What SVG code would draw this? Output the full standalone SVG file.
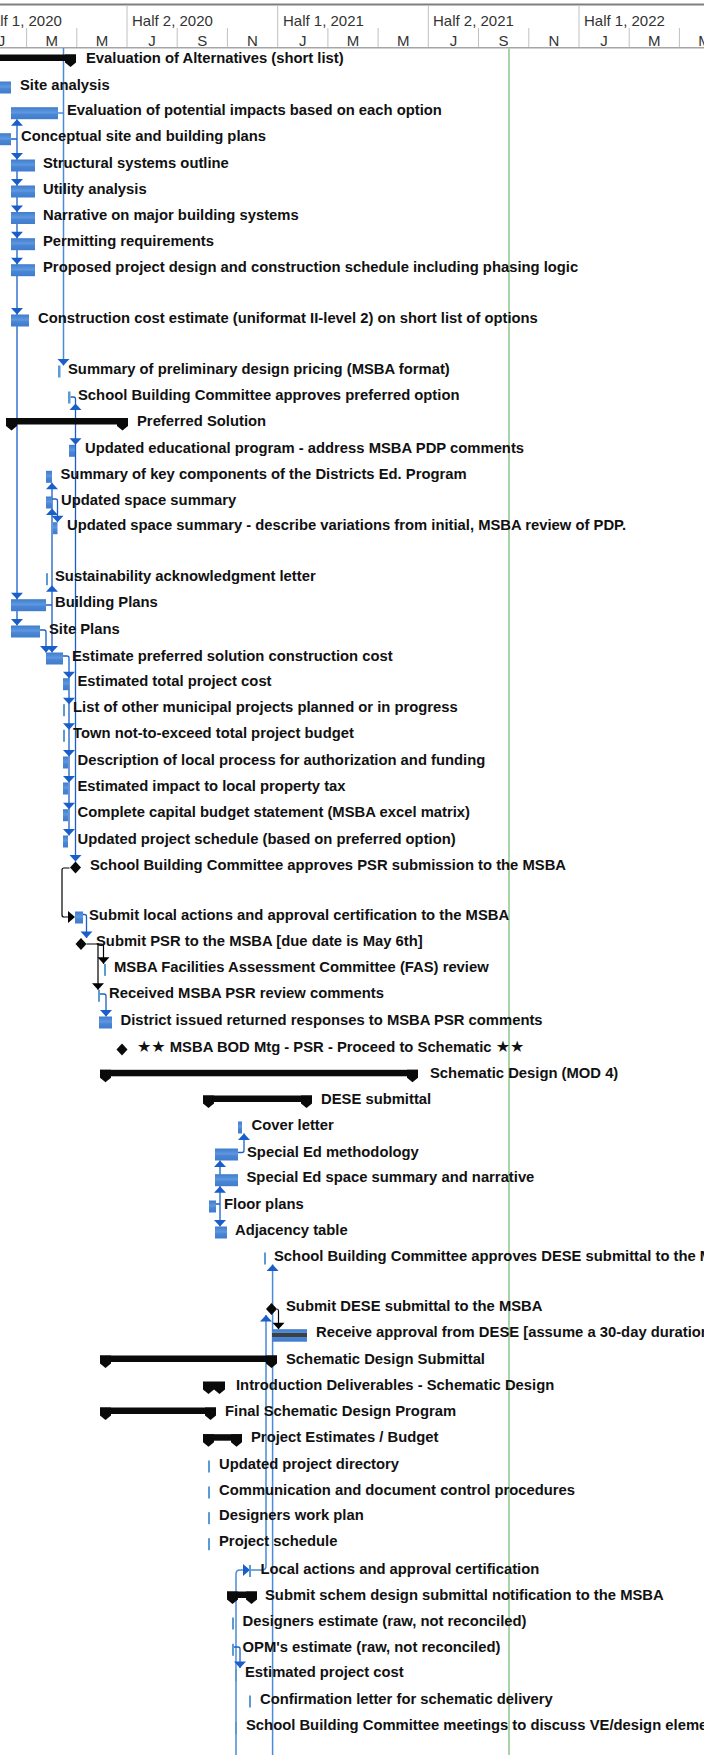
<svg xmlns="http://www.w3.org/2000/svg" xmlns:xlink="http://www.w3.org/1999/xlink" width="704" height="1755" viewBox="0 0 704 1755">
<style>
.t{font-family:"Liberation Sans","DejaVu Sans",Arial,sans-serif;font-weight:bold;font-size:14.8px;fill:#111}
.st{font-family:"DejaVu Sans",sans-serif;font-size:16px}
.h{font-family:"Liberation Sans",Arial,sans-serif;font-size:15px;fill:#333}
.bar{fill:url(#bg)}
.thin{fill:#5b9bd5}
.sum{fill:#0a0a0a}
.lk{fill:none;stroke:#1a5fc9;stroke-width:1.3}
.lk2{fill:none;stroke:#4a8ad8;stroke-width:1.5}
.bk{fill:none;stroke:#000;stroke-width:1.2}
.ah{fill:#1a5fc9}
.ahb{fill:#000}
.dv{stroke:#c0c0c0;stroke-width:1}
</style>
<defs>
<linearGradient id="bg" x1="0" y1="0" x2="0" y2="1">
<stop offset="0" stop-color="#3f7ccc"/>
<stop offset="0.45" stop-color="#5f98e0"/>
<stop offset="0.6" stop-color="#4a86d4"/>
<stop offset="1" stop-color="#3f7ccc"/>
</linearGradient>
<path id="ad" d="M-6,-6.5 H6 L0,0 Z"/>
<path id="au" d="M-6,6.5 H6 L0,0 Z"/>
<path id="ar" d="M-7,-6 V6 L0,0 Z"/>
<path id="cap" d="M-5.5,0 H5.5 V8 L0,12.5 L-5.5,8 Z"/>
<path id="dm" d="M0,-6 L5.5,0 L0,6 L-5.5,0 Z"/>
</defs>
<rect width="704" height="1755" fill="#fff"/>
<g id="header">
<line x1="0" y1="4.5" x2="704" y2="4.5" stroke="#7f7f7f" stroke-width="2"/>
<line x1="0" y1="47.8" x2="704" y2="47.8" stroke="#a6a6a6" stroke-width="1.5"/>
<g class="dv">
<line x1="127" y1="5" x2="127" y2="28"/><line x1="277.7" y1="5" x2="277.7" y2="28"/><line x1="428.3" y1="5" x2="428.3" y2="28"/><line x1="579" y1="5" x2="579" y2="28"/>
<line x1="26.6" y1="28" x2="26.6" y2="47"/><line x1="76.8" y1="28" x2="76.8" y2="47"/><line x1="127" y1="28" x2="127" y2="47"/><line x1="177.2" y1="28" x2="177.2" y2="47"/><line x1="227.4" y1="28" x2="227.4" y2="47"/><line x1="277.7" y1="28" x2="277.7" y2="47"/><line x1="327.9" y1="28" x2="327.9" y2="47"/><line x1="378.1" y1="28" x2="378.1" y2="47"/><line x1="428.3" y1="28" x2="428.3" y2="47"/><line x1="478.5" y1="28" x2="478.5" y2="47"/><line x1="528.8" y1="28" x2="528.8" y2="47"/><line x1="579" y1="28" x2="579" y2="47"/><line x1="629.2" y1="28" x2="629.2" y2="47"/><line x1="679.4" y1="28" x2="679.4" y2="47"/>
</g>
<text class="h" x="-19" y="25.5">Half 1, 2020</text>
<text class="h" x="132" y="25.5">Half 2, 2020</text>
<text class="h" x="283" y="25.5">Half 1, 2021</text>
<text class="h" x="433" y="25.5">Half 2, 2021</text>
<text class="h" x="584" y="25.5">Half 1, 2022</text>
<g text-anchor="middle">
<text class="h" x="1.5" y="46">J</text><text class="h" x="51.7" y="46">M</text><text class="h" x="101.9" y="46">M</text><text class="h" x="152.1" y="46">J</text><text class="h" x="202.3" y="46">S</text><text class="h" x="252.5" y="46">N</text><text class="h" x="302.8" y="46">J</text><text class="h" x="353" y="46">M</text><text class="h" x="403.2" y="46">M</text><text class="h" x="453.4" y="46">J</text><text class="h" x="503.6" y="46">S</text><text class="h" x="553.9" y="46">N</text><text class="h" x="604.1" y="46">J</text><text class="h" x="654.3" y="46">M</text><text class="h" x="704.5" y="46">M</text>
</g>
</g>
<line id="status-line" x1="509" y1="48.5" x2="509" y2="1755" stroke="#8cc68c" stroke-width="1.5"/>
<g id="connectors">
<path class="lk2" d="M63.5,48 V365.5 M58,113 H63.5"/>
<use href="#ad" class="ah" x="63.5" y="365.5"/>
<path class="lk" d="M17,119.2 V625.5 M11,139 H17"/>
<use href="#au" class="ah" x="17" y="119.2"/>
<use href="#ad" class="ah" x="17" y="159.5"/><use href="#ad" class="ah" x="17" y="185.5"/><use href="#ad" class="ah" x="17" y="212"/><use href="#ad" class="ah" x="17" y="238.2"/><use href="#ad" class="ah" x="17" y="264.2"/><use href="#ad" class="ah" x="17" y="314.5"/><use href="#ad" class="ah" x="17" y="599.2"/><use href="#ad" class="ah" x="17" y="625.5"/>
<path class="lk" d="M70.5,397 H73.5 Q75.5,397 75.5,399 V861.5"/>
<use href="#au" class="ah" x="75.5" y="403.5"/><use href="#ad" class="ah" x="75.5" y="444.8"/><use href="#ad" class="ah" x="75.5" y="861.5"/>
<path class="lk" d="M52,482.8 V652.5 M46,605 H52"/>
<use href="#au" class="ah" x="52" y="482.8"/><use href="#au" class="ah" x="52" y="508.5"/><use href="#au" class="ah" x="52" y="585.2"/><use href="#ad" class="ah" x="52" y="652.5"/>
<path class="lk" d="M52,499 H55.5 Q57.5,499 57.5,501 V522.2"/>
<use href="#ad" class="ah" x="57.5" y="522.2"/>
<path class="lk" d="M40,630 H44 Q46,630 46,632 V652.5"/>
<use href="#ad" class="ah" x="46" y="652.5"/>
<path class="lk" d="M63,656 H67 Q69,656 69,658 V835.5"/>
<use href="#ad" class="ah" x="69" y="678.2"/><use href="#ad" class="ah" x="69" y="704.2"/><use href="#ad" class="ah" x="69" y="729.8"/><use href="#ad" class="ah" x="69" y="756.5"/><use href="#ad" class="ah" x="69" y="782.5"/><use href="#ad" class="ah" x="69" y="809.2"/><use href="#ad" class="ah" x="69" y="835.5"/>
<path class="bk" d="M69.5,868 H64 Q62,868 62,870 V915 Q62,917 64,917 H69"/>
<use href="#ar" class="ahb" x="75" y="917"/>
<path class="lk" d="M83,914.5 H84.5 Q86.5,914.5 86.5,916.5 V938"/>
<use href="#ad" class="ah" x="86.5" y="938"/>
<path class="bk" d="M86.5,944 H101 Q103.5,944 103.5,946.5 V963.8 M98,944 V989.8"/>
<use href="#ad" class="ahb" x="103.5" y="963.8"/><use href="#ad" class="ahb" x="98" y="989.8"/>
<path class="lk" d="M100,994 H104 Q106,994 106,996 V1016.5"/>
<use href="#ad" class="ah" x="106" y="1016.5"/>
<path class="lk" d="M238,1152.5 H242 Q244,1152.5 244,1150.5 V1133.5"/>
<use href="#au" class="ah" x="244" y="1133.5"/>
<path class="lk" d="M220,1160.5 V1226.5 M216,1204 H220"/>
<use href="#au" class="ah" x="220" y="1160.5"/><use href="#au" class="ah" x="220" y="1186.2"/><use href="#ad" class="ah" x="220" y="1226.5"/>
<path class="lk2" d="M272.6,1264.5 V1755"/>
<use href="#au" class="ah" x="272.6" y="1264.5"/>
<path class="bk" d="M277,1309 Q278.5,1309 278.5,1311 V1329.2"/>
<use href="#ad" class="ahb" x="278.5" y="1329.2"/>
<path class="lk2" d="M266,1315 V1566 Q266,1570 262,1570 H240 Q236,1570 236,1574 V1755"/>
<use href="#au" class="ah" x="266" y="1315"/>
<use href="#ar" class="ah" x="250" y="1570"/>
<path class="lk" d="M234,1647 H238 Q240,1647 240,1649 V1668"/>
<use href="#ad" class="ah" x="240" y="1668"/>
</g>
<g id="n-eval-alt"><rect class="sum" x="0" y="54.5" width="76" height="6.5"/><use href="#cap" class="sum" x="70.5" y="54.5"/><text class="t" x="86" y="62.5">Evaluation of Alternatives (short list)</text></g>
<g id="n-site-analysis"><rect class="bar" x="0" y="81.5" width="11" height="12"/><text class="t" x="20" y="89.5">Site analysis</text></g>
<g id="n-eval-impacts"><rect class="bar" x="11" y="107.2" width="47" height="12"/><text class="t" x="67" y="115.2">Evaluation of potential impacts based on each option</text></g>
<g id="n-conceptual"><rect class="bar" x="0" y="133.2" width="11" height="12"/><text class="t" x="21" y="141.2">Conceptual site and building plans</text></g>
<g id="n-structural"><rect class="bar" x="11" y="159.5" width="24" height="12"/><text class="t" x="43" y="167.5">Structural systems outline</text></g>
<g id="n-utility"><rect class="bar" x="11" y="185.5" width="24" height="12"/><text class="t" x="43" y="193.5">Utility analysis</text></g>
<g id="n-narrative"><rect class="bar" x="11" y="212" width="24" height="12"/><text class="t" x="43" y="220">Narrative on major building systems</text></g>
<g id="n-permitting"><rect class="bar" x="11" y="238.2" width="24" height="12"/><text class="t" x="43" y="246.2">Permitting requirements</text></g>
<g id="n-proposed"><rect class="bar" x="11" y="264.2" width="24" height="12"/><text class="t" x="43" y="272.2">Proposed project design and construction schedule including phasing logic</text></g>
<g id="n-construction-cost"><rect class="bar" x="11" y="314.5" width="18" height="12"/><text class="t" x="38" y="322.5">Construction cost estimate (uniformat II-level 2) on short list of options</text></g>
<g id="n-summary-pricing"><rect class="thin" x="58" y="365.5" width="2.5" height="12"/><text class="t" x="68" y="373.5">Summary of preliminary design pricing (MSBA format)</text></g>
<g id="n-sbc-preferred"><rect class="thin" x="68" y="391.5" width="2.5" height="12"/><text class="t" x="78" y="399.5">School Building Committee approves preferred option</text></g>
<g id="n-preferred-solution"><rect class="sum" x="6" y="418" width="122" height="6.5"/><use href="#cap" class="sum" x="11.5" y="418"/><use href="#cap" class="sum" x="122.5" y="418"/><text class="t" x="137" y="426">Preferred Solution</text></g>
<g id="n-updated-ed"><rect class="bar" x="69" y="444.8" width="6" height="12"/><text class="t" x="85" y="452.8">Updated educational program - address MSBA PDP comments</text></g>
<g id="n-summary-key"><rect class="bar" x="46" y="470.8" width="6" height="12"/><text class="t" x="60.5" y="478.8">Summary of key components of the Districts Ed. Program</text></g>
<g id="n-updated-space"><rect class="bar" x="46" y="496.5" width="6" height="12"/><text class="t" x="61" y="504.5">Updated space summary</text></g>
<g id="n-updated-space-desc"><rect class="bar" x="53" y="522.2" width="4.5" height="12"/><text class="t" x="67" y="530.2">Updated space summary - describe variations from initial, MSBA review of PDP.</text></g>
<g id="n-sustainability"><rect class="thin" x="46" y="573.2" width="2" height="12"/><text class="t" x="55" y="581.2">Sustainability acknowledgment letter</text></g>
<g id="n-building-plans"><rect class="bar" x="11" y="599.2" width="35" height="12"/><text class="t" x="55" y="607.2">Building Plans</text></g>
<g id="n-site-plans"><rect class="bar" x="11" y="625.5" width="29" height="12"/><text class="t" x="49" y="633.5">Site Plans</text></g>
<g id="n-estimate-preferred"><rect class="bar" x="46" y="652.5" width="17" height="12"/><text class="t" x="72" y="660.5">Estimate preferred solution construction cost</text></g>
<g id="n-est-total"><rect class="bar" x="63" y="678.2" width="6" height="12"/><text class="t" x="77.5" y="686.2">Estimated total project cost</text></g>
<g id="n-list-other"><rect class="thin" x="63" y="704.2" width="2" height="12"/><text class="t" x="73" y="712.2">List of other municipal projects planned or in progress</text></g>
<g id="n-town"><rect class="thin" x="63" y="729.8" width="2" height="12"/><text class="t" x="73" y="737.8">Town not-to-exceed total project budget</text></g>
<g id="n-description"><rect class="bar" x="63" y="756.5" width="5" height="12"/><text class="t" x="77.5" y="764.5">Description of local process for authorization and funding</text></g>
<g id="n-impact-tax"><rect class="bar" x="63" y="782.5" width="5" height="12"/><text class="t" x="77.5" y="790.5">Estimated impact to local property tax</text></g>
<g id="n-capital-budget"><rect class="bar" x="63" y="809.2" width="5" height="12"/><text class="t" x="77.5" y="817.2">Complete capital budget statement (MSBA excel matrix)</text></g>
<g id="n-updated-schedule"><rect class="bar" x="63" y="835.5" width="5" height="12"/><text class="t" x="77.5" y="843.5">Updated project schedule (based on preferred option)</text></g>
<g id="n-sbc-psr"><use href="#dm" class="sum" x="75.5" y="867.5"/><text class="t" x="90" y="869.5">School Building Committee approves PSR submission to the MSBA</text></g>
<g id="n-submit-local"><rect class="bar" x="75" y="911.5" width="8" height="12"/><text class="t" x="89" y="919.5">Submit local actions and approval certification to the MSBA</text></g>
<g id="n-submit-psr"><use href="#dm" class="sum" x="81" y="944"/><text class="t" x="96" y="946.2">Submit PSR to the MSBA [due date is May 6th]</text></g>
<g id="n-fas"><rect class="thin" x="104" y="963.8" width="2" height="12"/><text class="t" x="114" y="971.8">MSBA Facilities Assessment Committee (FAS) review</text></g>
<g id="n-received"><rect class="thin" x="98" y="989.8" width="2" height="12"/><text class="t" x="109" y="997.8">Received MSBA PSR review comments</text></g>
<g id="n-district"><rect class="bar" x="99" y="1016.5" width="13" height="12"/><text class="t" x="120.5" y="1024.5">District issued returned responses to MSBA PSR comments</text></g>
<g id="n-bod"><use href="#dm" class="sum" x="122" y="1049.5"/><text class="t" x="137" y="1052"><tspan class="st">★★</tspan> MSBA BOD Mtg - PSR - Proceed to Schematic <tspan class="st">★★</tspan></text></g>
<g id="n-schematic"><rect class="sum" x="100" y="1069.8" width="318" height="6.5"/><use href="#cap" class="sum" x="105.5" y="1069.8"/><use href="#cap" class="sum" x="412.5" y="1069.8"/><text class="t" x="430" y="1077.8">Schematic Design (MOD 4)</text></g>
<g id="n-dese"><rect class="sum" x="203" y="1095.5" width="109" height="6.5"/><use href="#cap" class="sum" x="208.5" y="1095.5"/><use href="#cap" class="sum" x="306.5" y="1095.5"/><text class="t" x="321" y="1103.5">DESE submittal</text></g>
<g id="n-cover"><rect class="bar" x="238" y="1121.5" width="4" height="12"/><text class="t" x="251.5" y="1129.5">Cover letter</text></g>
<g id="n-sped-method"><rect class="bar" x="215" y="1148.5" width="23" height="12"/><text class="t" x="247" y="1156.5">Special Ed methodology</text></g>
<g id="n-sped-space"><rect class="bar" x="215" y="1174.2" width="23" height="12"/><text class="t" x="246.5" y="1182.2">Special Ed space summary and narrative</text></g>
<g id="n-floor"><rect class="bar" x="209" y="1200.5" width="7" height="12"/><text class="t" x="224" y="1208.5">Floor plans</text></g>
<g id="n-adjacency"><rect class="bar" x="215" y="1226.5" width="12" height="12"/><text class="t" x="235" y="1234.5">Adjacency table</text></g>
<g id="n-sbc-dese"><rect class="thin" x="264" y="1252.5" width="2" height="12"/><text class="t" x="274" y="1260.5">School Building Committee approves DESE submittal to the MSBA</text></g>
<g id="n-submit-dese"><use href="#dm" class="sum" x="271.5" y="1309"/><text class="t" x="286" y="1311.2">Submit DESE submittal to the MSBA</text></g>
<g id="n-receive-dese"><rect class="bar" x="272" y="1329.2" width="35" height="12.5"/><rect x="272" y="1333" width="35" height="4" fill="#404040"/><text class="t" x="316" y="1337.2">Receive approval from DESE [assume a 30-day duration</text></g>
<g id="n-sd-submittal"><rect class="sum" x="100" y="1355.5" width="177" height="6.5"/><use href="#cap" class="sum" x="105.5" y="1355.5"/><use href="#cap" class="sum" x="271.5" y="1355.5"/><text class="t" x="286" y="1363.5">Schematic Design Submittal</text></g>
<g id="n-intro"><use href="#cap" class="sum" x="208.5" y="1381.5"/><use href="#cap" class="sum" x="219.5" y="1381.5"/><text class="t" x="236" y="1389.5">Introduction Deliverables - Schematic Design</text></g>
<g id="n-final-sd"><rect class="sum" x="100" y="1407.5" width="116" height="6.5"/><use href="#cap" class="sum" x="105.5" y="1407.5"/><use href="#cap" class="sum" x="210.5" y="1407.5"/><text class="t" x="225" y="1415.5">Final Schematic Design Program</text></g>
<g id="n-proj-est"><rect class="sum" x="203" y="1434.2" width="39" height="6.5"/><use href="#cap" class="sum" x="208.5" y="1434.2"/><use href="#cap" class="sum" x="236.5" y="1434.2"/><text class="t" x="251" y="1442.2">Project Estimates / Budget</text></g>
<g id="n-directory"><rect class="thin" x="208" y="1460.5" width="2" height="12"/><text class="t" x="219" y="1468.5">Updated project directory</text></g>
<g id="n-communication"><rect class="thin" x="208" y="1486.5" width="2" height="12"/><text class="t" x="219" y="1494.5">Communication and document control procedures</text></g>
<g id="n-work-plan"><rect class="thin" x="208" y="1512.2" width="2" height="12"/><text class="t" x="219" y="1520.2">Designers work plan</text></g>
<g id="n-project-schedule"><rect class="thin" x="208" y="1538.2" width="2" height="12"/><text class="t" x="219" y="1546.2">Project schedule</text></g>
<g id="n-local-actions"><rect class="thin" x="249" y="1565" width="2" height="12"/><text class="t" x="260.5" y="1573.5">Local actions and approval certification</text></g>
<g id="n-submit-schem"><rect class="sum" x="227" y="1591.5" width="30" height="6.5"/><use href="#cap" class="sum" x="232.5" y="1591.5"/><use href="#cap" class="sum" x="251.5" y="1591.5"/><text class="t" x="265" y="1599.5">Submit schem design submittal notification to the MSBA</text></g>
<g id="n-designers-est"><rect class="thin" x="232" y="1617.5" width="2" height="12"/><text class="t" x="242.5" y="1625.5">Designers estimate (raw, not reconciled)</text></g>
<g id="n-opm-est"><rect class="thin" x="232" y="1643.8" width="2" height="12"/><text class="t" x="242.5" y="1651.8">OPM's estimate (raw, not reconciled)</text></g>
<g id="n-est-project-cost"><rect class="thin" x="235" y="1669.2" width="2" height="12"/><text class="t" x="245" y="1677.2">Estimated project cost</text></g>
<g id="n-confirmation"><rect class="thin" x="249" y="1695.5" width="2" height="12"/><text class="t" x="260" y="1703.5">Confirmation letter for schematic delivery</text></g>
<g id="n-sbc-meetings"><rect class="thin" x="235" y="1722.2" width="2" height="12"/><text class="t" x="246" y="1730.2">School Building Committee meetings to discuss VE/design elements</text></g>
</svg>
